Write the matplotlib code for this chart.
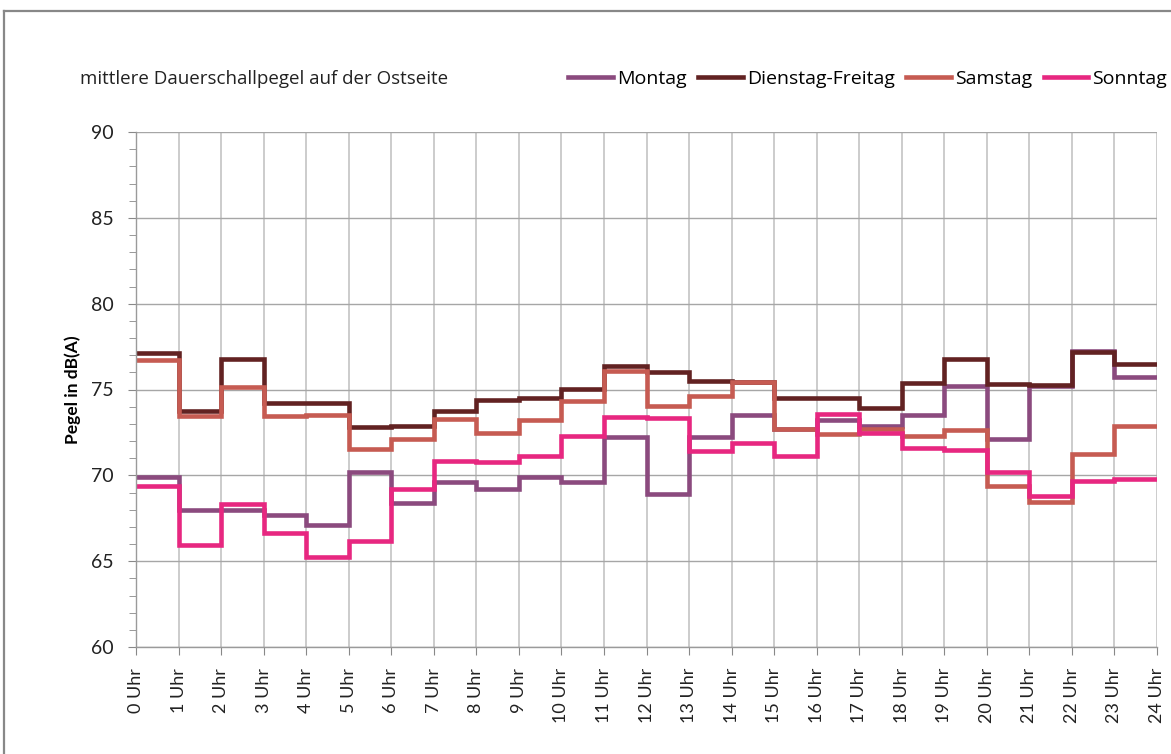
import numpy as np
import matplotlib
matplotlib.use("Agg")
import matplotlib.pyplot as plt
from matplotlib.lines import Line2D

# hourly mean levels, hour 0..23 (each value holds until the next hour)
hours = list(range(25))
hour_labels = ["%d Uhr" % h for h in hours]

montag = [69.9, 68.0, 68.0, 67.7, 67.1, 70.2, 68.4, 69.6, 69.2, 69.9, 69.6, 72.25,
          68.9, 72.25, 73.5, 72.7, 73.2, 72.9, 73.5, 75.2, 72.1, 75.2, 77.25, 75.75]
dienstag_freitag = [77.1, 73.75, 76.8, 74.2, 74.2, 72.8, 72.85, 73.75, 74.4, 74.5, 75.05, 76.35,
                    76.0, 75.5, 75.45, 74.5, 74.5, 73.95, 75.4, 76.8, 75.3, 75.25, 77.2, 76.5]
samstag = [76.7, 73.45, 75.15, 73.45, 73.5, 71.55, 72.1, 73.3, 72.45, 73.2, 74.35, 76.1,
           74.05, 74.65, 75.45, 72.7, 72.4, 72.7, 72.3, 72.65, 69.4, 68.45, 71.25, 72.9]
sonntag = [69.35, 65.95, 68.35, 66.65, 65.25, 66.15, 69.2, 70.85, 70.75, 71.1, 72.3, 73.4,
           73.35, 71.4, 71.9, 71.15, 73.6, 72.45, 71.6, 71.5, 70.2, 68.8, 69.65, 69.8]

series = [("Montag", montag, "#8b4a7e"),
          ("Dienstag-Freitag", dienstag_freitag, "#622222"),
          ("Samstag", samstag, "#c65b52"),
          ("Sonntag", sonntag, "#e72780")]

plt.rcParams['font.family'] = ['Lato', 'DejaVu Sans']
wide = ['Open Sans', 'DejaVu Sans']

fig = plt.figure(figsize=(11.71, 7.54), dpi=100)
ax = fig.add_axes([136/1171, 1 - 647/754, (1157 - 136)/1171, (647 - 132)/754])

for name, vals, col in series:
    ax.stairs(vals, hours, baseline=None, color=col, linewidth=3.3, label=name)

ax.set_xlim(0, 24)
ax.set_ylim(60, 90)
ax.set_xticks(hours)
ax.set_xticklabels(hour_labels, rotation=90, fontsize=13, color="#222222")
ax.set_yticks(range(60, 91, 5))
ax.set_yticks(range(60, 91, 1), minor=True)
ax.tick_params(axis='y', labelsize=14, colors="#888888", labelcolor="#222222", length=6, pad=10)
ax.tick_params(axis='y', which='minor', length=5, colors="#888888")
ax.tick_params(axis='x', colors="#888888", labelcolor="#222222", length=6, pad=9)

ax.grid(axis='y', which='major', color="#a6a6a6", linewidth=1.0)
ax.grid(axis='x', color="#cccccc", linewidth=1.4)
ax.set_axisbelow(True)
for s in ['top', 'right']:
    ax.spines[s].set_visible(False)
for s in ['left', 'bottom']:
    ax.spines[s].set_color("#9a9a9a")
    ax.spines[s].set_linewidth(1.0)

ax.set_ylabel("Pegel in dB(A)", fontsize=12.5, fontweight='bold', labelpad=7)

fig.text(80/1171, 1 - 79/754, "mittlere Dauerschallpegel auf der Ostseite",
         fontsize=13.5, va='center', ha='left', color="#222222", family=wide)

handles = [Line2D([], [], color=c, linewidth=3.3) for _, _, c in series]
labels = [name for name, _, _ in series]
fig.legend(handles, labels, loc='center right', bbox_to_anchor=(1.0, 1 - 79/754),
           ncol=4, frameon=False, prop={'family': wide, 'size': 14},
           handlelength=2.3, handletextpad=0.2,
           columnspacing=0.6, borderaxespad=0.1, borderpad=0.1)

# chart border (cropped on right and bottom)
fig.add_artist(Line2D([4/1171, 4/1171], [0, 1 - 11/754], color="#888888", linewidth=1.6,
                      transform=fig.transFigure))
fig.add_artist(Line2D([4/1171, 1], [1 - 11/754, 1 - 11/754], color="#888888", linewidth=1.6,
                      transform=fig.transFigure))

plt.savefig("out.png", dpi=100)
